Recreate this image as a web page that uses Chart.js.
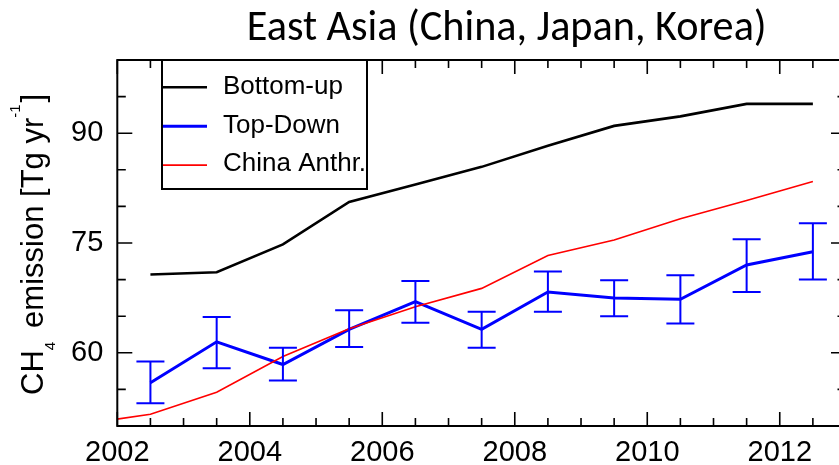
<!DOCTYPE html>
<html>
<head>
<meta charset="utf-8">
<script src="https://cdn.jsdelivr.net/npm/chart.js@4/dist/chart.umd.min.js"></script>
<style>
  html, body { margin: 0; padding: 0; background: #fff; overflow: hidden; }
  #c { display: block; width: 846px; height: 465px; }
</style>
</head>
<body>
<canvas id="c" width="846" height="465"></canvas>
<script>
// Annual CH4 emission estimates, East Asia (Tg/yr), plotted at mid-year
const years = [2002.5, 2003.5, 2004.5, 2005.5, 2006.5, 2007.5, 2008.5, 2009.5, 2010.5, 2011.5, 2012.5];
const bottomUp = [70.7, 71.0, 74.8, 80.6, 83.0, 85.4, 88.3, 91.0, 92.3, 94.0, 94.0];
const topDown = [55.9, 61.5, 58.4, 63.2, 67.0, 63.2, 68.3, 67.5, 67.3, 72.0, 73.8];
const topDownLow = [53.1, 57.9, 56.2, 60.8, 64.1, 60.7, 65.6, 65.0, 64.0, 68.3, 70.0];
const topDownHigh = [58.8, 64.9, 60.7, 65.8, 69.8, 65.6, 71.1, 69.9, 70.6, 75.5, 77.7];
const chinaYears = [2001.5, 2002.5, 2003.5, 2004.5, 2005.5, 2006.5, 2007.5, 2008.5, 2009.5, 2010.5, 2011.5, 2012.5];
const chinaAnthr = [50.3, 51.6, 54.6, 59.5, 63.3, 66.3, 68.8, 73.3, 75.4, 78.3, 80.8, 83.4];

// Axis labels
const xLabelYears = [2002, 2004, 2006, 2008, 2010, 2012];
const yLabelValues = [60, 75, 90];

const titleText = 'East Asia (China, Japan, Korea)';
const FONT = "'Liberation Sans', Arial, sans-serif";
const TITLE_FONT = "Carlito, Calibri, Lato, sans-serif";

const toPoints = (xs, ys) => xs.map((x, i) => ({ x: x, y: ys[i] }));

// Inward tick marks, frame, error bars, legend and titles
const decor = {
  id: 'decor',
  afterDatasetsDraw(chart) {
    const { ctx, chartArea: a, scales: { x, y } } = chart;
    ctx.save();

    // error bars on the top-down estimates
    ctx.strokeStyle = '#0000ff';
    ctx.lineWidth = 2;
    years.forEach((yr, i) => {
      const px = x.getPixelForValue(yr);
      const lo = y.getPixelForValue(topDownLow[i]);
      const hi = y.getPixelForValue(topDownHigh[i]);
      ctx.beginPath();
      ctx.moveTo(px, lo); ctx.lineTo(px, hi);
      ctx.moveTo(px - 14, lo); ctx.lineTo(px + 14, lo);
      ctx.moveTo(px - 14, hi); ctx.lineTo(px + 14, hi);
      ctx.stroke();
    });

    // plot frame
    ctx.strokeStyle = '#000';
    ctx.lineWidth = 2;
    ctx.strokeRect(a.left, a.top, a.right - a.left, a.bottom - a.top);

    // tick marks pointing into the plot on all four sides
    ctx.lineWidth = 1.6;
    ctx.beginPath();
    for (let v = x.min; v <= x.max + 1e-9; v += 0.5) {
      const len = xLabelYears.includes(v) ? 14 : 8;
      const px = x.getPixelForValue(v);
      ctx.moveTo(px, a.bottom); ctx.lineTo(px, a.bottom - len);
      ctx.moveTo(px, a.top); ctx.lineTo(px, a.top + len);
    }
    for (let v = y.min; v <= y.max + 1e-9; v += 5) {
      const len = yLabelValues.includes(v) ? 15 : 8.5;
      const py = y.getPixelForValue(v);
      ctx.moveTo(a.left, py); ctx.lineTo(a.left + len, py);
      ctx.moveTo(a.right, py); ctx.lineTo(a.right - len, py);
    }
    ctx.stroke();

    // legend box
    const lx = 162, ly = a.top, lw = 205, lh = 129;
    ctx.fillStyle = '#fff';
    ctx.fillRect(lx, ly, lw, lh);
    ctx.lineWidth = 2;
    ctx.strokeStyle = '#000';
    ctx.strokeRect(lx, ly, lw, lh);
    ctx.font = '26px ' + FONT;
    ctx.textAlign = 'left';
    ctx.textBaseline = 'alphabetic';
    chart.data.datasets.forEach((ds, i) => {
      const rowY = 87.3 + i * 38.9;
      ctx.strokeStyle = ds.borderColor;
      ctx.lineWidth = ds.borderWidth;
      ctx.beginPath();
      ctx.moveTo(lx + 1, rowY); ctx.lineTo(207, rowY);
      ctx.stroke();
      ctx.fillStyle = '#000';
      ctx.fillText(ds.label, 223, rowY + 6.3);
    });

    // chart title
    ctx.font = '40px ' + TITLE_FONT;
    const tw = ctx.measureText(titleText).width;
    const tsize = 40 * 520 / tw;
    ctx.font = tsize.toFixed(2) + 'px ' + TITLE_FONT;
    ctx.textAlign = 'center';
    ctx.fillStyle = '#000';
    ctx.fillText(titleText, 506.7, 40);

    // rotated y-axis title with sub/superscripts
    ctx.translate(43.3, 395);
    ctx.rotate(-Math.PI / 2);
    ctx.textAlign = 'left';
    const big = '31px ' + FONT, small = '15px ' + FONT;
    let cx = 0;
    const put = (txt, font, dy) => {
      ctx.font = font;
      ctx.fillText(txt, cx, dy);
      cx += ctx.measureText(txt).width;
    };
    put('CH', big, 0);
    put('4', small, 12);
    cx += 14;
    put('emission [Tg yr', big, 0);
    put('-1', small, -23);
    cx += 2;
    put(']', big, 0);

    ctx.restore();
  }
};

new Chart(document.getElementById('c'), {
  type: 'line',
  data: {
    datasets: [
      { label: 'Bottom-up', data: toPoints(years, bottomUp), borderColor: '#000000', borderWidth: 2.6, order: 2 },
      { label: 'Top-Down', data: toPoints(years, topDown), borderColor: '#0000ff', borderWidth: 3, order: 1 },
      { label: 'China Anthr.', data: toPoints(chinaYears, chinaAnthr), borderColor: '#ff0000', borderWidth: 1.6, order: 0 }
    ]
  },
  options: {
    responsive: false,
    animation: false,
    devicePixelRatio: 1,
    layout: { padding: { top: 60, left: 0, right: 0, bottom: 0 } },
    elements: { point: { radius: 0, hoverRadius: 0 }, line: { tension: 0, fill: false } },
    plugins: { legend: { display: false }, title: { display: false }, tooltip: { enabled: false } },
    events: [],
    scales: {
      x: {
        type: 'linear', min: 2002, max: 2013,
        grid: { display: false, drawTicks: false },
        border: { display: false },
        ticks: {
          font: { family: FONT, size: 29 }, color: '#000', padding: 10,
          maxRotation: 0, autoSkip: false, callback: v => String(v)
        },
        afterBuildTicks: s => { s.ticks = xLabelYears.map(v => ({ value: v })); },
        afterFit: s => { s.height = 39; }
      },
      y: {
        type: 'linear', min: 50, max: 100,
        grid: { display: false, drawTicks: false },
        border: { display: false },
        ticks: {
          font: { family: FONT, size: 29 }, color: '#000', padding: 14,
          autoSkip: false, callback: v => String(v)
        },
        afterBuildTicks: s => { s.ticks = yLabelValues.map(v => ({ value: v })); },
        afterFit: s => { s.width = 117.3; }
      }
    }
  },
  plugins: [decor]
});
</script>
</body>
</html>
